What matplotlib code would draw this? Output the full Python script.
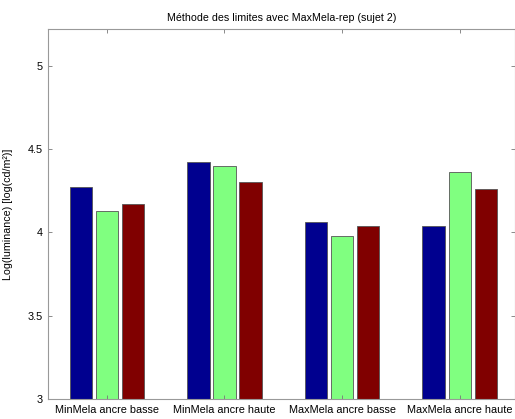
import numpy as np
import matplotlib.pyplot as plt

plt.rcParams['font.family'] = ['Liberation Sans', 'DejaVu Sans']

categories = ["MinMela ancre basse", "MinMela ancre haute",
              "MaxMela ancre basse", "MaxMela ancre haute"]
serie1 = [4.27, 4.42, 4.06, 4.04]
serie2 = [4.13, 4.40, 3.98, 4.36]
serie3 = [4.17, 4.30, 4.04, 4.26]
colors = ["#00008f", "#80ff80", "#800000"]

fig = plt.figure(figsize=(5.15, 4.19), dpi=100)
ax = fig.add_axes([48 / 515, 20 / 419, 467 / 515, 370 / 419])

x = np.arange(1, len(categories) + 1)
width = 0.19
step = 0.222
for i, vals in enumerate([serie1, serie2, serie3]):
    ax.bar(x + (i - 1) * step, np.array(vals) - 3, width, bottom=3,
           color=colors[i], edgecolor="#555555", linewidth=0.6)

ax.set_xlim(0.5, 4.47)
ax.set_ylim(3, 5.22)
ax.set_xticks(x)
ax.set_xticklabels(categories)
ax.set_yticks([3, 3.5, 4, 4.5, 5])
ax.set_yticklabels(["3", "3.5", "4", "4.5", "5"])
ax.tick_params(direction="in", top=True, right=True, labelsize=7.8,
               length=3, width=0.6, color="#777777", pad=4)
for s in ax.spines.values():
    s.set_color("#999999")
    s.set_linewidth(0.8)

ax.set_title("Méthode des limites avec MaxMela-rep (sujet 2)", fontsize=7.7, pad=6)
ax.set_ylabel("Log(luminance) [log(cd/m²)]", fontsize=7.7, labelpad=10)

fig.savefig("out.png", dpi=100)
